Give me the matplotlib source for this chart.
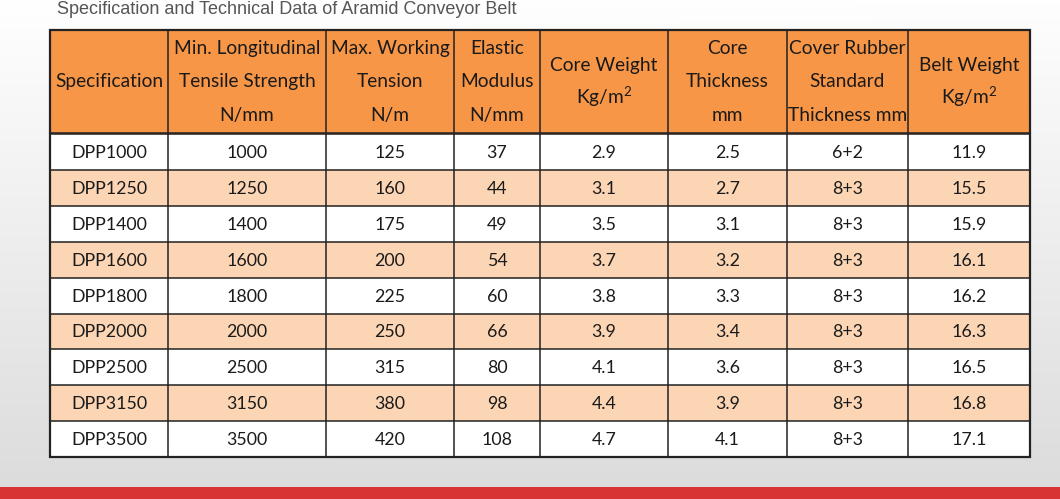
import numpy as np
import matplotlib.pyplot as plt
from matplotlib.patches import Rectangle

# Dados da tabela
titulo = "Specification and Technical Data of Aramid Conveyor Belt"
cabecalho = [
    ["Specification"],
    ["Min. Longitudinal", "Tensile Strength", "N/mm"],
    ["Max. Working", "Tension", "N/m"],
    ["Elastic", "Modulus", "N/mm"],
    ["Core Weight", "Kg/m$^2$"],
    ["Core", "Thickness", "mm"],
    ["Cover Rubber", "Standard", "Thickness mm"],
    ["Belt Weight", "Kg/m$^2$"],
]
especificacao = ["DPP1000", "DPP1250", "DPP1400", "DPP1600", "DPP1800",
                 "DPP2000", "DPP2500", "DPP3150", "DPP3500"]
resistencia = [1000, 1250, 1400, 1600, 1800, 2000, 2500, 3150, 3500]
tensao = [125, 160, 175, 200, 225, 250, 315, 380, 420]
modulo = [37, 44, 49, 54, 60, 66, 80, 98, 108]
peso_nucleo = ["2.9", "3.1", "3.5", "3.7", "3.8", "3.9", "4.1", "4.4", "4.7"]
espessura_nucleo = ["2.5", "2.7", "3.1", "3.2", "3.3", "3.4", "3.6", "3.9", "4.1"]
cobertura = ["6+2"] + ["8+3"] * 8
peso_correia = ["11.9", "15.5", "15.9", "16.1", "16.2", "16.3", "16.5", "16.8", "17.1"]

colunas = [especificacao, resistencia, tensao, modulo, peso_nucleo,
           espessura_nucleo, cobertura, peso_correia]

# Layout (pixels)
W, H = 1060, 499
bordas_x = [50, 168, 326, 454, 540, 668, 787, 908, 1030]
topo = 30
fim_cabecalho = 134
altura_linha = 35.9

plt.rcParams["mathtext.fontset"] = "custom"
plt.rcParams["mathtext.rm"] = "Lato"

fig = plt.figure(figsize=(W / 100, H / 100), dpi=100)
ax = fig.add_axes([0, 0, 1, 1])
ax.set_xlim(0, W)
ax.set_ylim(H, 0)
ax.axis("off")

# fundo em degradê
grad = np.linspace(1.0, 0.86, 256).reshape(-1, 1)
grad = np.hstack([grad, grad * 0.985 + 0.012])
ax.imshow(np.dstack([grad, grad, grad]), extent=[0, W, H, 0], aspect="auto",
          interpolation="bicubic", zorder=0)
ax.add_patch(Rectangle((0, 487), W, 12, color="#d93434", lw=0, zorder=1))

ax.text(57, 9, titulo, fontsize=13, color="#555555", family="Liberation Sans",
        va="center", ha="left", zorder=5)

fonte = ["Lato", "DejaVu Sans"]
n = len(especificacao)
fundo_tabela = fim_cabecalho + n * altura_linha

# cabeçalho
ax.add_patch(Rectangle((bordas_x[0], topo), bordas_x[-1] - bordas_x[0],
                       fim_cabecalho - topo, color="#f79646", lw=0, zorder=2))
for j, linhas in enumerate(cabecalho):
    xc = (bordas_x[j] + bordas_x[j + 1]) / 2
    ys = {1: [81], 2: [65, 97], 3: [48, 81, 115]}[len(linhas)]
    for y, t in zip(ys, linhas):
        ax.text(xc, y, t, fontsize=13.8, family=fonte, color="#1a1a1a",
                ha="center", va="center", zorder=5)

# linhas de dados
for i in range(n):
    y0 = fim_cabecalho + i * altura_linha
    cor = "#fcd5b4" if i % 2 == 1 else "white"
    ax.add_patch(Rectangle((bordas_x[0], y0), bordas_x[-1] - bordas_x[0],
                           altura_linha, color=cor, lw=0, zorder=2))
    for j, col in enumerate(colunas):
        xc = (bordas_x[j] + bordas_x[j + 1]) / 2
        ax.text(xc, y0 + altura_linha / 2 + 1, str(col[i]), fontsize=12.8,
                family=fonte, color="#1a1a1a", ha="center", va="center", zorder=5)
    ax.plot([bordas_x[0], bordas_x[-1]], [y0, y0], color="#222222", lw=1.1, zorder=3)

# grade
for x in bordas_x:
    ax.plot([x, x], [topo, fundo_tabela], color="#222222", lw=1.1, zorder=3)
ax.plot([bordas_x[0], bordas_x[-1]], [fim_cabecalho - 1.5, fim_cabecalho - 1.5],
        color="#222222", lw=1.1, zorder=3)
ax.add_patch(Rectangle((bordas_x[0], topo), bordas_x[-1] - bordas_x[0],
                       fundo_tabela - topo, fill=False, ec="#222222", lw=1.6, zorder=4))

fig.savefig("out.png", dpi=100)
